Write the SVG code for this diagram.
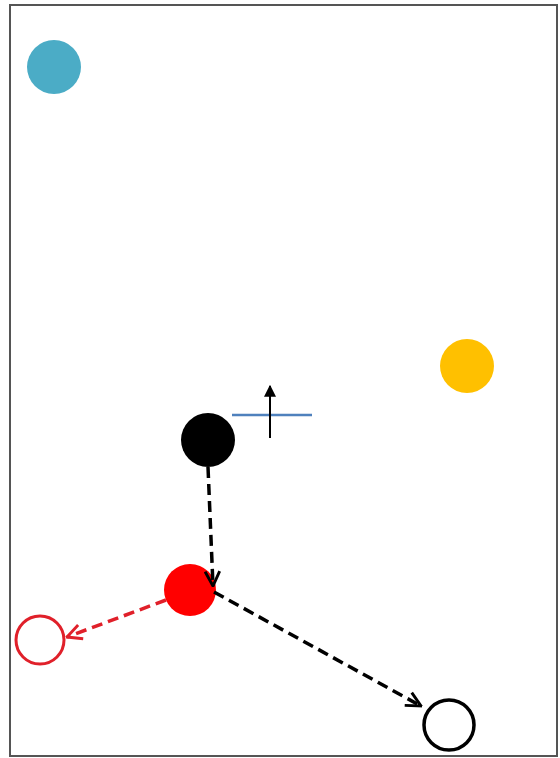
<svg xmlns="http://www.w3.org/2000/svg" width="560" height="758" viewBox="0 0 560 758">
<style>
.dash{fill:none;stroke-width:3.5;stroke-dasharray:11,6}
</style>
<defs>
<marker id="vk" viewBox="0 0 12 12" refX="11" refY="6" markerWidth="5" markerHeight="5" markerUnits="strokeWidth" orient="auto">
<path d="M1,1 L11,6 L1,11" fill="none" stroke="#000" stroke-width="2"/>
</marker>
<marker id="vr" viewBox="0 0 12 12" refX="11" refY="6" markerWidth="5" markerHeight="5" markerUnits="strokeWidth" orient="auto">
<path d="M1,1 L11,6 L1,11" fill="none" stroke="#E0202A" stroke-width="2"/>
</marker>
<marker id="tri" viewBox="0 0 10 10" refX="9" refY="5" markerWidth="6" markerHeight="6" markerUnits="strokeWidth" orient="auto">
<path d="M0,0 L10,5 L0,10 Z" fill="#000"/>
</marker>
</defs>
<rect width="560" height="758" fill="#fff"/>
<rect x="10" y="5" width="547" height="751" fill="none" stroke="#555" stroke-width="2"/>
<g id="blue"><circle cx="54" cy="67" r="27" fill="#4BACC6"/></g>
<g id="yellow"><circle cx="467" cy="366" r="27" fill="#FFC000"/></g>
<g id="black"><circle cx="208" cy="440" r="27" fill="#000"/></g>
<g id="red"><circle cx="190" cy="590" r="26" fill="#FF0000"/></g>
<g id="redOpen"><circle cx="40" cy="640" r="24" fill="none" stroke="#E0202A" stroke-width="3"/></g>
<g id="blackOpen"><circle cx="449" cy="725" r="25" fill="none" stroke="#000" stroke-width="3.5"/></g>
<g id="cross">
<line x1="232" y1="415" x2="312" y2="415" stroke="#4F81BD" stroke-width="2.5"/>
<line x1="270" y1="438" x2="270" y2="386" stroke="#000" stroke-width="2" marker-end="url(#tri)"/>
</g>
<g id="connectors">
<line class="dash" x1="208" y1="467" x2="213" y2="586" stroke="#000" marker-end="url(#vk)"/>
<line class="dash" x1="214" y1="592" x2="421" y2="706" stroke="#000" marker-end="url(#vk)"/>
<line class="dash" x1="166" y1="600" x2="67" y2="637" stroke="#E0202A" marker-end="url(#vr)"/>
</g>
</svg>
